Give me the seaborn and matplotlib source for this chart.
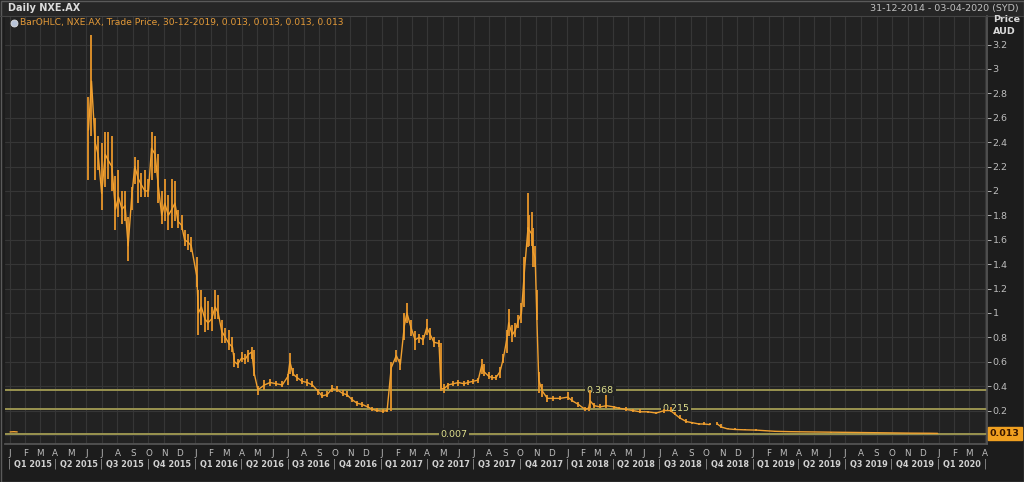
import numpy as np
import pandas as pd
import matplotlib
matplotlib.use("Agg")
import matplotlib.pyplot as plt
import matplotlib.dates as mdates
import matplotlib.transforms as mtransforms
from matplotlib.patches import Rectangle
import seaborn as sns

# ---------------- data ----------------
dates = [
    "2015-01-02", "2015-01-09", "2015-01-16", "2015-03-02",
    "2015-06-05", "2015-06-11", "2015-06-18", "2015-06-24", "2015-07-01", "2015-07-08",
    "2015-07-14", "2015-07-21", "2015-07-28", "2015-08-03", "2015-08-10", "2015-08-16",
    "2015-08-22", "2015-08-29", "2015-09-04", "2015-09-11", "2015-09-17", "2015-09-24",
    "2015-10-01", "2015-10-07", "2015-10-14", "2015-10-20", "2015-10-27", "2015-11-02",
    "2015-11-09", "2015-11-16", "2015-11-22", "2015-11-28", "2015-12-05", "2015-12-11",
    "2015-12-18", "2015-12-24", "2016-01-04", "2016-01-07", "2016-01-13", "2016-01-20",
    "2016-01-26", "2016-02-02", "2016-02-09", "2016-02-15", "2016-02-22", "2016-02-29",
    "2016-03-07", "2016-03-14", "2016-03-18", "2016-03-24", "2016-04-01", "2016-04-08",
    "2016-04-14", "2016-04-21", "2016-04-26", "2016-05-03", "2016-05-16", "2016-05-27",
    "2016-06-08", "2016-06-20", "2016-07-01", "2016-07-05", "2016-07-11", "2016-07-19",
    "2016-07-29", "2016-08-08", "2016-08-18", "2016-08-29", "2016-09-06", "2016-09-16",
    "2016-09-26", "2016-10-06", "2016-10-17", "2016-10-25", "2016-11-04", "2016-11-14",
    "2016-11-24", "2016-12-05", "2016-12-14", "2016-12-23", "2017-01-03", "2017-01-12",
    "2017-01-20", "2017-01-30", "2017-02-07", "2017-02-15", "2017-02-20", "2017-02-28",
    "2017-03-08", "2017-03-16", "2017-03-24", "2017-03-31", "2017-04-07", "2017-04-14",
    "2017-04-24", "2017-04-28", "2017-05-04", "2017-05-12", "2017-05-22", "2017-06-01",
    "2017-06-12", "2017-06-20", "2017-06-30", "2017-07-10", "2017-07-17", "2017-07-21",
    "2017-07-31", "2017-08-07", "2017-08-14", "2017-08-22", "2017-08-28", "2017-09-04",
    "2017-09-08", "2017-09-15", "2017-09-21", "2017-09-27", "2017-10-03", "2017-10-09",
    "2017-10-16", "2017-10-18", "2017-10-23", "2017-10-26", "2017-10-30", "2017-11-02",
    "2017-11-06", "2017-11-13", "2017-11-23", "2017-12-04", "2017-12-18", "2018-01-02",
    "2018-01-11", "2018-01-23", "2018-02-05", "2018-02-12", "2018-02-15", "2018-02-23",
    "2018-03-07", "2018-03-19", "2018-04-03", "2018-04-12", "2018-04-26", "2018-05-10",
    "2018-05-24", "2018-06-08", "2018-06-25", "2018-07-11", "2018-07-23", "2018-08-01",
    "2018-08-10", "2018-08-23", "2018-09-04", "2018-09-17", "2018-09-27", "2018-10-08",
    "2018-10-15", "2018-10-23", "2018-10-31", "2018-11-12", "2018-11-27", "2018-12-17",
    "2019-01-07", "2019-01-25", "2019-02-14", "2019-03-15", "2019-04-24", "2019-06-03",
    "2019-07-12", "2019-08-20", "2019-09-30", "2019-11-06", "2019-12-16", "2019-12-30",
]
nan = float("nan")
close = [
    0.025, 0.027, 0.025, nan,
    2.50, 2.90, 2.40, 2.30, 1.98, 2.30, 2.25, 2.20, 1.85, 1.95, 1.85, 1.88,
    1.55, 1.95, 2.20, 2.10, 2.05, 2.00, 2.00, 2.35, 2.30, 2.05, 1.80, 1.90,
    1.80, 1.85, 1.90, 1.75, 1.72, 1.60, 1.58, 1.55, 1.30, 1.00, 1.05, 0.95,
    0.92, 0.95, 1.05, 1.00, 0.85, 0.80, 0.75, 0.72, 0.60, 0.58, 0.63, 0.62,
    0.66, 0.68, 0.50, 0.37, 0.41, 0.43, 0.42, 0.41, 0.48, 0.60, 0.50, 0.47,
    0.44, 0.43, 0.41, 0.36, 0.32, 0.33, 0.38, 0.37, 0.34, 0.33, 0.29, 0.26,
    0.25, 0.23, 0.21, 0.20, 0.195, 0.20, 0.55, 0.65, 0.58, 0.90, 1.00, 0.88,
    0.78, 0.80, 0.78, 0.88, 0.82, 0.76, 0.75, 0.38, 0.38, 0.41, 0.42, 0.43,
    0.42, 0.43, 0.44, 0.45, 0.57, 0.52, 0.48, 0.47, 0.47, 0.52, 0.62, 0.78,
    0.92, 0.82, 0.86, 0.94, 1.00, 1.35, 1.70, 1.68, 1.65, 1.50, 1.45, 1.00,
    0.45, 0.36, 0.30, 0.30, 0.30, 0.31, 0.28, 0.25, 0.21, 0.22, 0.28, 0.24,
    0.23, 0.24, 0.23, 0.22, 0.21, 0.20, 0.19, 0.19, 0.18, 0.20, 0.20, 0.17,
    0.14, 0.11, 0.10, 0.09, 0.09, 0.085, nan, 0.09, 0.065, 0.05, 0.045, 0.042,
    0.04, 0.035, 0.03, 0.027, 0.025, 0.023, 0.021, 0.019, 0.017, 0.015, 0.014, 0.013,
]
high = [
    0.028, 0.03, 0.028, nan,
    2.77, 3.28, 2.60, 2.45, 2.39, 2.48, 2.48, 2.45, 2.12, 2.17, 2.00, 2.00,
    1.79, 2.03, 2.28, 2.25, 2.15, 2.17, 2.10, 2.48, 2.45, 2.30, 2.00, 2.10,
    1.97, 2.10, 2.08, 1.84, 1.80, 1.68, 1.65, 1.62, 1.46, 1.19, 1.19, 1.13,
    1.10, 1.05, 1.19, 1.15, 0.94, 0.88, 0.86, 0.80, 0.67, 0.62, 0.68, 0.66,
    0.70, 0.72, 0.70, 0.40, 0.45, 0.46, 0.44, 0.44, 0.50, 0.67, 0.55, 0.50,
    0.47, 0.46, 0.44, 0.38, 0.35, 0.36, 0.41, 0.40, 0.37, 0.36, 0.31, 0.28,
    0.27, 0.25, 0.23, 0.22, 0.21, 0.21, 0.60, 0.70, 0.62, 1.00, 1.08, 0.94,
    0.85, 0.83, 0.82, 0.95, 0.88, 0.80, 0.78, 0.75, 0.42, 0.43, 0.44, 0.45,
    0.44, 0.45, 0.46, 0.47, 0.62, 0.58, 0.52, 0.49, 0.49, 0.56, 0.66, 0.86,
    1.03, 0.90, 0.92, 0.98, 1.08, 1.46, 1.98, 1.80, 1.83, 1.70, 1.55, 1.19,
    0.52, 0.42, 0.33, 0.32, 0.32, 0.35, 0.31, 0.27, 0.23, 0.23, 0.37, 0.26,
    0.25, 0.33, 0.24, 0.23, 0.23, 0.21, 0.21, 0.20, 0.19, 0.21, 0.23, 0.19,
    0.16, 0.13, 0.11, 0.10, 0.11, 0.10, nan, 0.11, 0.09, 0.06, 0.055, 0.05,
    0.045, 0.04, 0.035, 0.03, 0.028, 0.026, 0.024, 0.022, 0.02, 0.018, 0.016, 0.013,
]
low = [
    0.022, 0.024, 0.022, nan,
    2.09, 2.45, 2.09, 2.17, 1.84, 2.03, 2.10, 2.00, 1.68, 1.79, 1.73, 1.75,
    1.43, 1.84, 2.06, 1.90, 1.95, 1.95, 1.95, 2.09, 2.15, 1.90, 1.73, 1.75,
    1.68, 1.70, 1.75, 1.70, 1.68, 1.55, 1.52, 1.50, 1.21, 0.82, 0.90, 0.84,
    0.86, 0.85, 0.95, 0.95, 0.75, 0.75, 0.70, 0.68, 0.56, 0.55, 0.60, 0.58,
    0.60, 0.62, 0.48, 0.33, 0.37, 0.40, 0.40, 0.39, 0.41, 0.50, 0.48, 0.44,
    0.42, 0.40, 0.39, 0.33, 0.30, 0.31, 0.35, 0.35, 0.32, 0.31, 0.27, 0.24,
    0.23, 0.22, 0.20, 0.19, 0.18, 0.19, 0.20, 0.60, 0.53, 0.78, 0.92, 0.81,
    0.70, 0.75, 0.74, 0.82, 0.78, 0.72, 0.72, 0.36, 0.34, 0.38, 0.40, 0.40,
    0.40, 0.41, 0.42, 0.43, 0.50, 0.48, 0.46, 0.45, 0.45, 0.47, 0.59, 0.67,
    0.81, 0.76, 0.80, 0.88, 0.92, 1.05, 1.54, 1.55, 1.55, 1.38, 1.38, 0.94,
    0.34, 0.31, 0.27, 0.28, 0.29, 0.29, 0.27, 0.23, 0.20, 0.20, 0.22, 0.22,
    0.22, 0.22, 0.21, 0.21, 0.20, 0.19, 0.18, 0.18, 0.17, 0.18, 0.19, 0.16,
    0.13, 0.10, 0.09, 0.08, 0.08, 0.08, nan, 0.08, 0.06, 0.045, 0.04, 0.04,
    0.035, 0.03, 0.027, 0.024, 0.022, 0.02, 0.018, 0.016, 0.015, 0.013, 0.012, 0.013,
]
ref_levels = [0.368, 0.215, 0.007]
ref_labels = ["0.368", "0.215", "0.007"]
ref_label_dates = ["2018-03-07", "2018-08-03", "2017-05-24"]
y_ticks = [0.2, 0.4, 0.6, 0.8, 1.0, 1.2, 1.4, 1.6, 1.8, 2.0, 2.2, 2.4, 2.6, 2.8, 3.0, 3.2]
month_letters = ["J", "F", "M", "A", "M", "J", "J", "A", "S", "O", "N", "D"]
quarter_labels = [
    "Q1 2015", "Q2 2015", "Q3 2015", "Q4 2015", "Q1 2016", "Q2 2016", "Q3 2016",
    "Q4 2016", "Q1 2017", "Q2 2017", "Q3 2017", "Q4 2017", "Q1 2018", "Q2 2018",
    "Q3 2018", "Q4 2018", "Q1 2019", "Q2 2019", "Q3 2019", "Q4 2019", "Q1 2020",
]
last_price = "0.013"
header_left = "Daily NXE.AX"
header_right = "31-12-2014 - 03-04-2020 (SYD)"
legend_text = "BarOHLC, NXE.AX, Trade Price, 30-12-2019, 0.013, 0.013, 0.013, 0.013"

# ---------------- styling ----------------
FIG_BG = "#1c1c1c"
AX_BG = "#222222"
GRID = "#363636"
ORANGE = "#f0a030"
BAR = "#e8962a"
REF = "#9a9450"
TXT = "#c8c8c8"

sns.set_theme(style="dark", rc={
    "axes.facecolor": AX_BG, "figure.facecolor": FIG_BG,
    "grid.color": GRID, "axes.edgecolor": "#505050",
})
plt.rcParams["font.family"] = ["DejaVu Sans"]

df = pd.DataFrame({"date": pd.to_datetime(dates), "close": close,
                   "high": high, "low": low})
df["seg"] = df["close"].isna().cumsum()
df_ok = df.dropna()

W, H = 1024, 482
fig = plt.figure(figsize=(W / 100, H / 100), dpi=100)
fig.patch.set_facecolor(FIG_BG)

ax_top, ax_bot, ax_left, ax_right = 16, 444, 5, 987
ax = fig.add_axes([ax_left / W, 1 - ax_bot / H, (ax_right - ax_left) / W, (ax_bot - ax_top) / H])
ax.set_facecolor(AX_BG)

ax.set_xlim(pd.Timestamp("2014-12-23"), pd.Timestamp("2020-04-05"))
ax.set_ylim(-0.074, 3.434)
ax.xaxis.set_major_locator(mdates.MonthLocator())
ax.xaxis.set_major_formatter(plt.FuncFormatter(
    lambda v, p: month_letters[mdates.num2date(v).month - 1]))
ax.yaxis.tick_right()
ax.set_yticks(y_ticks)
ax.yaxis.set_major_formatter(plt.FuncFormatter(lambda v, p: f"{v:g}"))
ax.grid(True, which="major", color=GRID, lw=0.8)
ax.axhline(0.0, color=GRID, lw=0.8, zorder=0)

# reference levels
for lev, lab, ld in zip(ref_levels, ref_labels, ref_label_dates):
    ax.axhline(lev, color=REF, lw=1.4, zorder=2)
    ax.text(pd.Timestamp(ld), lev, lab,
            color="#dede8c", fontsize=6.8, ha="center", va="center", zorder=3,
            bbox=dict(facecolor=AX_BG, edgecolor="none", pad=1.2))

# OHLC bars and close line
ax.vlines(df_ok["date"], df_ok["low"], df_ok["high"], color=BAR, lw=1.3, zorder=4)
sns.lineplot(data=df_ok, x="date", y="close", units="seg", estimator=None,
             color=ORANGE, lw=1.0, ax=ax, legend=False, zorder=5)
ax.set_xlabel("")
ax.set_ylabel("")

for s in ["top", "left"]:
    ax.spines[s].set_visible(False)
ax.spines["right"].set_color("#555555")
ax.spines["bottom"].set_color("#555555")
ax.tick_params(axis="x", colors=TXT, labelsize=6.3, length=2, pad=1.5, width=0.6)
ax.tick_params(axis="y", colors=TXT, labelsize=6.8, length=3, pad=1, width=0.6)
for lab in ax.get_xticklabels() + ax.get_yticklabels():
    lab.set_color("#bdbdbd")

# quarter labels
trans = mtransforms.blended_transform_factory(ax.transData, ax.transAxes)
qy = -(464 - ax_bot) / (ax_bot - ax_top)
q_starts = pd.date_range("2015-01-01", periods=len(quarter_labels) + 1, freq="QS")
for i, q in enumerate(quarter_labels):
    mid = q_starts[i] + (q_starts[i + 1] - q_starts[i]) / 2
    ax.text(mid, qy, q, transform=trans, ha="center", va="center",
            fontsize=5.9, color="#d0d0d0", fontweight="bold", clip_on=False)
for qs in q_starts:
    ax.text(qs, qy, "|", transform=trans, ha="center", va="center",
            fontsize=7, color="#9a9a9a", clip_on=False)

# last price box
ytrans = mtransforms.blended_transform_factory(ax.transAxes, ax.transData)
ax.text(1.003, 0.013, last_price, transform=ytrans, ha="left", va="center",
        fontsize=6.8, color="#3a1800", fontweight="bold", clip_on=False, zorder=6,
        bbox=dict(facecolor="#f0a020", edgecolor="#f0a020", pad=1.6))

# header
fig.add_artist(Rectangle((0, 1 - 16 / H), 1, 16 / H, transform=fig.transFigure,
                         facecolor="#262626", edgecolor="none", zorder=0))
fig.add_artist(plt.Line2D([0, 1], [1 - 16 / H] * 2, transform=fig.transFigure,
                          color="#444444", lw=0.8))
fig.text(8 / W, 1 - 8 / H, header_left, fontsize=7, color="#dcdcdc",
         fontweight="bold", va="center", ha="left")
fig.text(1019 / W, 1 - 8 / H, header_right, fontsize=6.8, color="#c0c0c0",
         va="center", ha="right")
fig.text(993 / W, 1 - 20 / H, "Price", fontsize=6.8, color="#d8d8d8",
         fontweight="bold", va="center", ha="left")
fig.text(993 / W, 1 - 31 / H, "AUD", fontsize=6.8, color="#d8d8d8",
         fontweight="bold", va="center", ha="left")
fig.text(20 / W, 1 - 23 / H, legend_text, fontsize=6.6, color="#e49a38",
         va="center", ha="left")
fig.add_artist(plt.Line2D([14 / W], [1 - 23 / H], transform=fig.transFigure,
                          marker="o", ms=5, color="#b8c4d8", mec="#e0e0e0", mew=0.6))

fig.add_artist(Rectangle((0.5 / W, 0.5 / H), 1 - 1 / W, 1 - 1 / H, transform=fig.transFigure,
                         facecolor="none", edgecolor="#5a5a5a", lw=1.0))

fig.savefig("out.png", dpi=100, facecolor=FIG_BG)
